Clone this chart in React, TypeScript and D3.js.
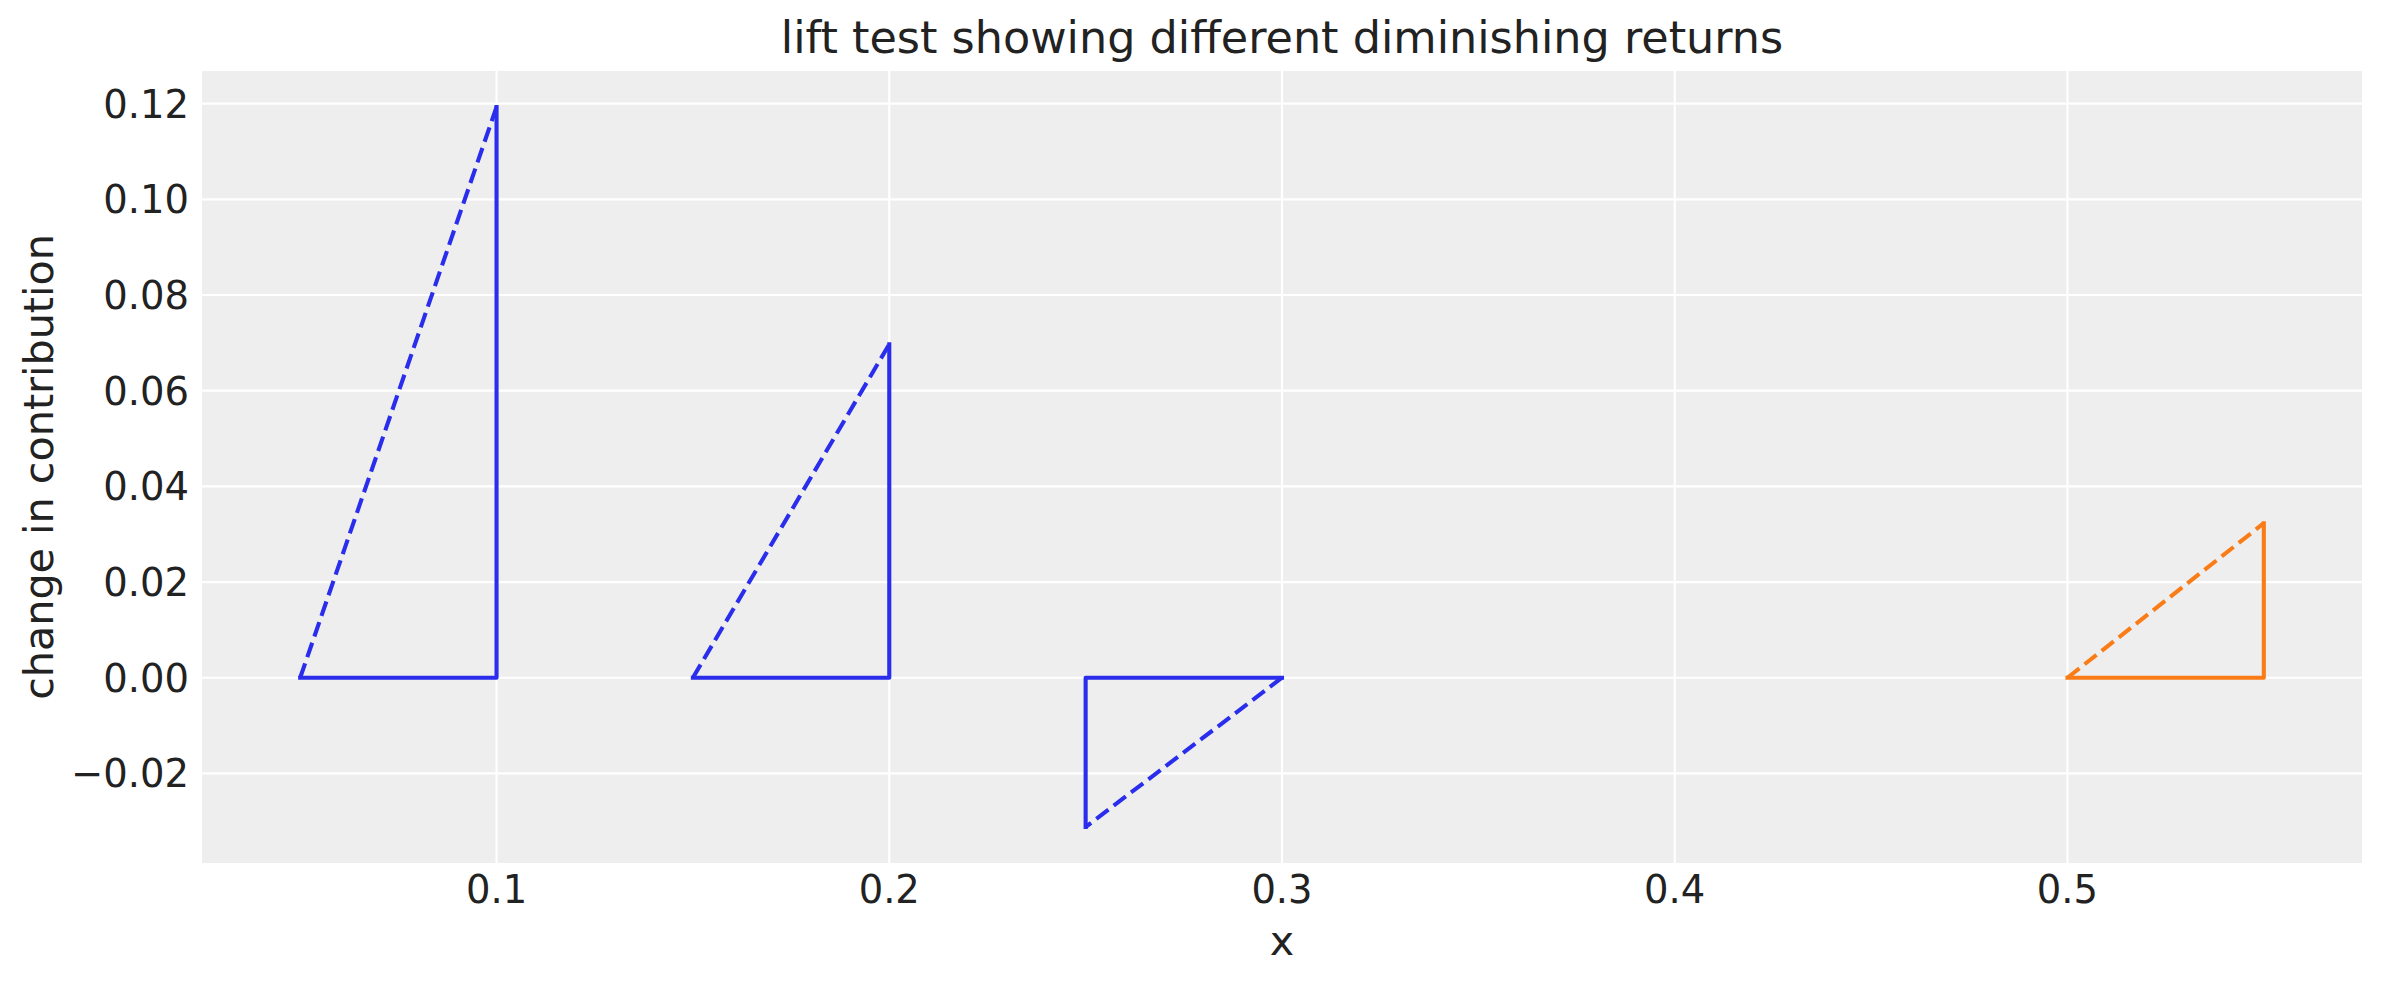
import React from "react";
import * as d3 from "d3";

// ---- data ----
const channels = ["channel 1", "channel 1", "channel 1", "channel 2"];
const xStart = [0.05, 0.15, 0.3, 0.5];
const deltaX = [0.05, 0.05, -0.05, 0.05];
const deltaY = [0.1193, 0.0697, -0.0312, 0.0323];
const channelColors: Record<string, string> = { "channel 1": "#2a2eec", "channel 2": "#fa7c17" };
const xTicks = [0.1, 0.2, 0.3, 0.4, 0.5];
const yTicks = [-0.02, 0, 0.02, 0.04, 0.06, 0.08, 0.1, 0.12];
const titleText = "lift test showing different diminishing returns";
const xLabel = "x";
const yLabel = "change in contribution";

const W = 2382;
const H = 984;
const M = { left: 202, right: 20, top: 71, bottom: 121 };
const FONT = "DejaVu Sans";
const TEXT = "#222222";

export default function App() {
  const xs = xStart.flatMap((x, i) => [x, x + deltaX[i]]);
  const ys = deltaY.flatMap((d) => [0, d]);
  const [xmin, xmax] = d3.extent(xs) as [number, number];
  const [ymin, ymax] = d3.extent(ys) as [number, number];
  const xr = xmax - xmin;
  const yr = ymax - ymin;
  const x = d3
    .scaleLinear()
    .domain([xmin - 0.05 * xr, xmax + 0.05 * xr])
    .range([M.left, W - M.right]);
  const y = d3
    .scaleLinear()
    .domain([ymin - 0.05 * yr, ymax + 0.05 * yr])
    .range([H - M.bottom, M.top]);

  const line = d3
    .line<[number, number]>()
    .x((d) => x(d[0]))
    .y((d) => y(d[1]));

  const lw = 4.1;
  const fmtY = (v: number) => {
    const s = Math.abs(v).toFixed(2);
    return v < -1e-9 ? "\u2212" + s : s;
  };

  return (
    <svg
      width={W}
      height={H}
      style={{ position: "absolute", left: 0, top: 0, background: "#fff" }}
      fontFamily={FONT}
    >
      <rect
        x={M.left}
        y={M.top}
        width={W - M.left - M.right}
        height={H - M.top - M.bottom}
        fill="#eeeeee"
      />
      {xTicks.map((t) => (
        <line key={"gx" + t} x1={x(t)} x2={x(t)} y1={M.top} y2={H - M.bottom} stroke="#fff" strokeWidth={2.2} />
      ))}
      {yTicks.map((t) => (
        <line key={"gy" + t} x1={M.left} x2={W - M.right} y1={y(t)} y2={y(t)} stroke="#fff" strokeWidth={2.2} />
      ))}
      {xStart.map((x0, i) => {
        const x1 = x0 + deltaX[i];
        const c = channelColors[channels[i]];
        const solid: [number, number][] = [
          [x0, 0],
          [x1, 0],
          [x1, deltaY[i]],
        ];
        const dashed: [number, number][] = [
          [x0, 0],
          [x1, deltaY[i]],
        ];
        return (
          <g key={"t" + i}>
            <path d={line(dashed) || ""} fill="none" stroke={c} strokeWidth={lw} strokeDasharray="15.2 6.6" strokeLinecap="butt" />
            <path d={line(solid) || ""} fill="none" stroke={c} strokeWidth={lw} strokeLinejoin="round" strokeLinecap="square" />
          </g>
        );
      })}
      {xTicks.map((t) => (
        <text key={"tx" + t} x={x(t)} y={903} textAnchor="middle" fontSize={38.5} fill={TEXT}>
          {d3.format(".1f")(t)}
        </text>
      ))}
      {yTicks.map((t) => (
        <text key={"ty" + t} x={189} y={y(t)} dy="0.36em" textAnchor="end" fontSize={38.5} fill={TEXT}>
          {fmtY(t)}
        </text>
      ))}
      <text x={(M.left + W - M.right) / 2} y={955} textAnchor="middle" fontSize={41.25} fill={TEXT}>
        {xLabel}
      </text>
      <text
        transform={`translate(53,${(M.top + H - M.bottom) / 2}) rotate(-90)`}
        textAnchor="middle"
        fontSize={41.25}
        fill={TEXT}
      >
        {yLabel}
      </text>
      <text x={(M.left + W - M.right) / 2} y={53} textAnchor="middle" fontSize={44.5} fill={TEXT}>
        {titleText}
      </text>
    </svg>
  );
}
